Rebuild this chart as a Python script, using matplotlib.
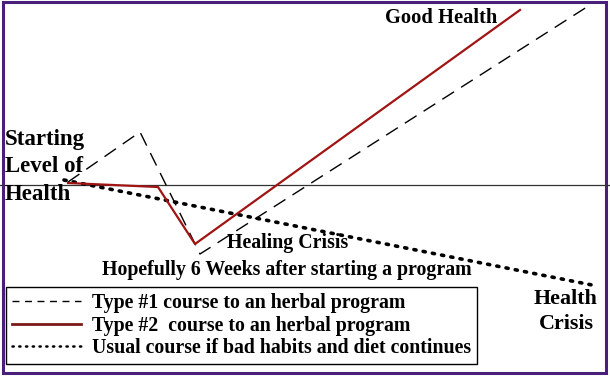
import matplotlib
matplotlib.use("Agg")
import matplotlib.pyplot as plt
from matplotlib.patches import Rectangle

# Diagram values (diagram units, y grows downward)
type1_x = [68, 140, 200, 590]
type1_y = [182, 132, 254, 5]
type2_x = [68, 158, 195, 520]
type2_y = [183, 187, 244, 10]
usual_x = [64, 597]
usual_y = [180, 286]
baseline_level = 185

legend_labels = [
    "Type #1 course to an herbal program",
    "Type #2  course to an herbal program",
    "Usual course if bad habits and diet continues",
]

plt.rcParams['font.family'] = ['Liberation Serif', 'DejaVu Serif']

fig = plt.figure(figsize=(6.1, 3.9), dpi=100)
ax = fig.add_axes([0, 0, 1, 1])
ax.set_xlim(0, 610)
ax.set_ylim(390, 0)
ax.axis('off')

# purple frame
ax.add_patch(Rectangle((2.5, 1.5), 603, 371, fill=False, edgecolor='#4a1f7a', linewidth=2.2, zorder=1))

# baseline
ax.axhline(baseline_level, color='#333333', linewidth=0.9, zorder=2)

red = '#a01414'
l1, = ax.plot(type1_x, type1_y, color='black', linewidth=1.0, linestyle=(0, (10, 6)), zorder=3)
l2, = ax.plot(type2_x, type2_y, color=red, linewidth=1.6, zorder=4)
l3, = ax.plot(usual_x, usual_y, color='black', linewidth=2.6, linestyle=(0, (0.6, 2.0)),
              dash_capstyle='round', zorder=3)

tk = dict(fontweight='bold', color='black', zorder=5)
ax.text(5, 139, "Starting", fontsize=16.5, va='center', ha='left', **tk)
ax.text(5, 167, "Level of", fontsize=16.5, va='center', ha='left', **tk)
ax.text(5, 195, "Health", fontsize=16.5, va='center', ha='left', **tk)
ax.text(441, 18, "Good Health", fontsize=14.8, va='center', ha='center', **tk)
ax.text(288, 243, "Healing Crisis", fontsize=14.3, va='center', ha='center', **tk)
ax.text(287, 270, "Hopefully 6 Weeks after starting a program", fontsize=14.3, va='center', ha='center', **tk)
ax.text(566, 299, "Health", fontsize=15.8, va='center', ha='center', **tk)
ax.text(566, 324, "Crisis", fontsize=15.8, va='center', ha='center', **tk)

# legend handles: thinner versions like in the reference
h1, = ax.plot([], [], color='black', linewidth=1.0, linestyle=(0, (5, 4)))
h2, = ax.plot([], [], color='#7a1a1a', linewidth=2.0)
h3, = ax.plot([], [], color='black', linewidth=1.8, linestyle=(0, (0.5, 2.2)), dash_capstyle='round')
leg = ax.legend([h1, h2, h3], legend_labels, loc='lower left',
                bbox_to_anchor=(6 / 610, 1 - 364 / 390), bbox_transform=ax.transAxes,
                prop={'family': ['Liberation Serif'], 'weight': 'bold', 'size': 14.3},
                frameon=True, fancybox=False, edgecolor='black', framealpha=1,
                handlelength=3.5, handletextpad=0.55, borderpad=0.3, labelspacing=0.12,
                borderaxespad=0)
leg.get_frame().set_linewidth(1.0)
leg.set_zorder(6)

fig.savefig("out.png", dpi=100)
